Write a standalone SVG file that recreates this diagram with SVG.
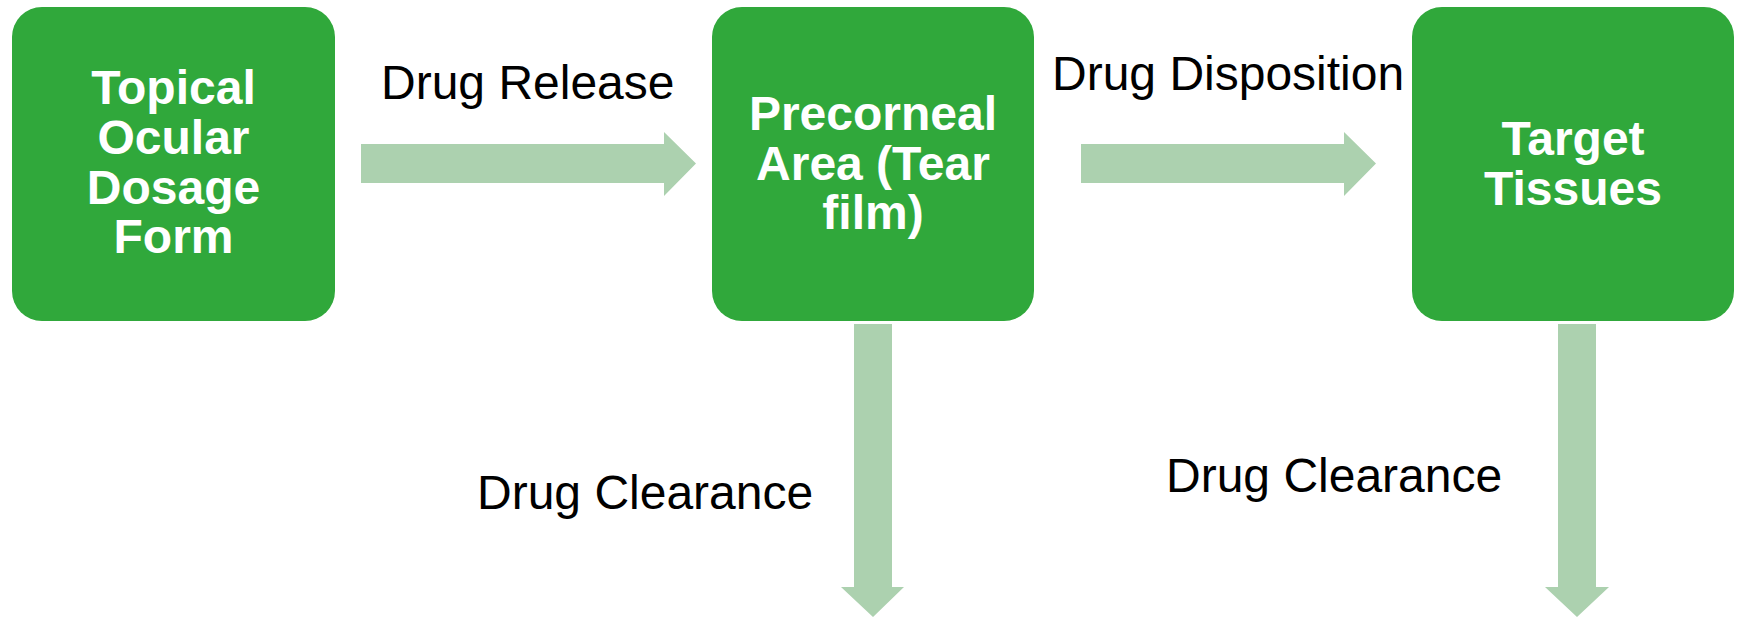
<svg xmlns="http://www.w3.org/2000/svg" width="1741" height="617" viewBox="0 0 1741 617">
  <style>
    .box { fill: #30a83b; }
    .btxt { font-family: "Liberation Sans", Arial, sans-serif; font-weight: bold; font-size: 48px; fill: #ffffff; text-anchor: middle; }
    .lbl { font-family: "Liberation Sans", Arial, sans-serif; font-size: 48px; fill: #000000; }
    .arrow { fill: #acd1af; }
  </style>
  <rect width="1741" height="617" fill="#ffffff"/>
  <g id="connectors">
    <polygon class="arrow" points="361,144 664,144 664,132 696,163.5 664,196 664,183 361,183"/>
    <polygon class="arrow" points="1081,144 1344,144 1344,132 1376,163.5 1344,196 1344,183 1081,183"/>
    <polygon class="arrow" points="854,324 892,324 892,587 904,587 873,617 841,587 854,587"/>
    <polygon class="arrow" points="1558,324 1596,324 1596,587 1609,587 1577,617 1545,587 1558,587"/>
    <text class="lbl" x="381" y="99">Drug Release</text>
    <text class="lbl" x="1052" y="90">Drug Disposition</text>
    <text class="lbl" x="477" y="509">Drug Clearance</text>
    <text class="lbl" x="1166" y="492">Drug Clearance</text>
  </g>
  <g id="node-dosage-form">
    <rect class="box" x="12" y="7" width="323" height="314" rx="30" ry="30"/>
    <text class="btxt" x="173.5" y="104">Topical</text>
    <text class="btxt" x="173.5" y="154">Ocular</text>
    <text class="btxt" x="173.5" y="204">Dosage</text>
    <text class="btxt" x="173.5" y="253">Form</text>
  </g>
  <g id="node-precorneal">
    <rect class="box" x="712" y="7" width="322" height="314" rx="30" ry="30"/>
    <text class="btxt" x="873" y="130">Precorneal</text>
    <text class="btxt" x="873" y="180">Area (Tear</text>
    <text class="btxt" x="873" y="229">film)</text>
  </g>
  <g id="node-target">
    <rect class="box" x="1412" y="7" width="322" height="314" rx="30" ry="30"/>
    <text class="btxt" x="1573" y="155">Target</text>
    <text class="btxt" x="1573" y="205">Tissues</text>
  </g>
</svg>
